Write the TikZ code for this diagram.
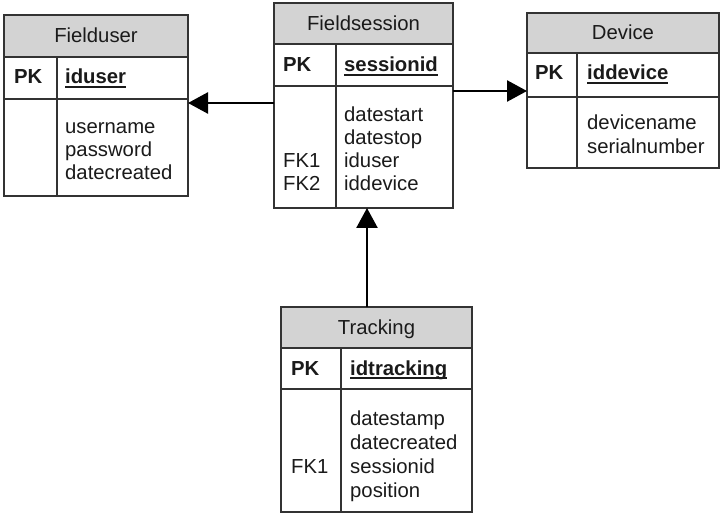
\documentclass[tikz,border=0pt]{standalone}
\usepackage{fontspec}
\setmainfont{Liberation Sans}
\newsavebox\keyulbox
\newcommand\keyul[1]{\sbox\keyulbox{#1}\rlap{\rule[-4pt]{\wd\keyulbox}{1.8pt}}\usebox\keyulbox}
\usetikzlibrary{arrows.meta}
\definecolor{bordc}{HTML}{333333}
\definecolor{hdrc}{HTML}{D3D3D3}
\definecolor{txtc}{HTML}{1A1A1A}
\tikzset{
  cell/.style={draw=bordc, line width=1.5pt, inner sep=0pt, outer sep=0pt, anchor=north west},
  hdr/.style={cell, fill=hdrc, text=txtc, font=\fontsize{20.3}{23.5}\selectfont, text height=14pt, text depth=0pt},
  txt/.style={anchor=base west, inner sep=0pt, text=txtc, font=\fontsize{20.3}{23.5}\selectfont},
  pkt/.style={txt, font=\fontsize{20.3}{23.5}\selectfont\bfseries},
  divl/.style={draw=bordc, line width=1.5pt},
  arr/.style={draw=black, line width=2.5pt, -{Triangle[length=20pt,width=21pt]}}
}
\begin{document}
\begin{tikzpicture}[x=1pt,y=-1pt]
\useasboundingbox (0,0) rectangle (721,516);
\fill[white] (0,0) rectangle (721,516);

% ---------------- Fielduser ----------------
\node[hdr, minimum width=184pt, minimum height=42pt] (fuh) at (4,15) {Fielduser};
\node[cell, minimum width=184pt, minimum height=42pt] (fupk) at (4,57) {};
\node[cell, minimum width=184pt, minimum height=97pt] (fub) at (4,99) {};
\draw[divl] ([xshift=53pt]fupk.north west) -- ([xshift=53pt]fub.south west);
\node[pkt] (fupkl) at (14,84) {PK};
\node[pkt] (fukey) at (65,84) {\keyul{iduser}};
\node[txt] (fu1) at (65,134) {username};
\node[txt] (fu2) at (65,157) {password};
\node[txt] (fu3) at (65,180) {datecreated};

% ---------------- Fieldsession ----------------
\node[hdr, minimum width=179pt, minimum height=41pt] (fsh) at (274,3) {Fieldsession};
\node[cell, minimum width=179pt, minimum height=42pt] (fspk) at (274,44) {};
\node[cell, minimum width=179pt, minimum height=122pt] (fsb) at (274,86) {};
\draw[divl] ([xshift=62pt]fspk.north west) -- ([xshift=62pt]fsb.south west);
\node[pkt] (fspkl) at (283,72) {PK};
\node[pkt] (fskey) at (344,72) {\keyul{sessionid}};
\node[txt] (fs1) at (344,122) {datestart};
\node[txt] (fs2) at (344,145) {datestop};
\node[txt] (fs3) at (344,168) {iduser};
\node[txt] (fs4) at (344,191) {iddevice};
\node[txt] (fsfk1) at (283,168) {FK1};
\node[txt] (fsfk2) at (283,191) {FK2};

% ---------------- Device ----------------
\node[hdr, minimum width=192pt, minimum height=40pt] (dvh) at (527,13) {Device};
\node[cell, minimum width=192pt, minimum height=44pt] (dvpk) at (527,53) {};
\node[cell, minimum width=192pt, minimum height=71pt] (dvb) at (527,97) {};
\draw[divl] ([xshift=50pt]dvpk.north west) -- ([xshift=50pt]dvb.south west);
\node[pkt] (dvpkl) at (535,80) {PK};
\node[pkt] (dvkey) at (587,80) {\keyul{iddevice}};
\node[txt] (dv1) at (587,130) {devicename};
\node[txt] (dv2) at (587,154) {serialnumber};

% ---------------- Tracking ----------------
\node[hdr, minimum width=191pt, minimum height=41pt] (trh) at (281,307) {Tracking};
\node[cell, minimum width=191pt, minimum height=41pt] (trpk) at (281,348) {};
\node[cell, minimum width=191pt, minimum height=123pt] (trb) at (281,389) {};
\draw[divl] ([xshift=60pt]trpk.north west) -- ([xshift=60pt]trb.south west);
\node[pkt] (trpkl) at (291,375) {PK};
\node[pkt] (trkey) at (350,375) {\keyul{idtracking}};
\node[txt] (tr1) at (350,425) {datestamp};
\node[txt] (tr2) at (350,449) {datecreated};
\node[txt] (tr3) at (350,473) {sessionid};
\node[txt] (tr4) at (350,497) {position};
\node[txt] (trfk1) at (291,473) {FK1};

% ---------------- Connectors ----------------
\coordinate (a1) at ([yshift=-17pt]fsb.north west);
\draw[arr] (a1) -- (a1 -| fub.east);
\coordinate (a2) at ([yshift=-5pt]fsb.north east);
\draw[arr] (a2) -- (a2 -| dvpk.west);
\coordinate (a3) at ([xshift=86pt]trh.north west);
\draw[arr] (a3) -- (a3 |- fsb.south);
\end{tikzpicture}
\end{document}
